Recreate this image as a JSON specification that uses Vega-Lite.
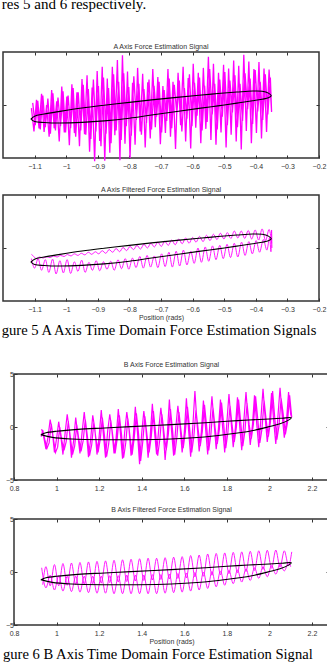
{
"$schema": "https://vega.github.io/schema/vega-lite/v6.json",
"padding": {"left": 1, "top": -4, "right": 0, "bottom": 0},
"title": {"text": "res 5 and 6 respectively.", "anchor": "start", "frame": "bounds", "font": "Liberation Serif", "fontSize": 15, "color": "#000", "offset": 30},
"config": {
  "view": {"stroke": "#333", "strokeWidth": 1.5},
  "font": "Liberation Sans",
  "axis": {"domain": false, "grid": false, "tickSize": -3, "tickColor": "#333", "tickWidth": 1, "labelFontSize": 7, "labelColor": "#333", "labelFont": "Liberation Sans", "labelFlush": false, "labelOverlap": false, "titleFontSize": 7, "titleFont": "Liberation Sans", "titleFontWeight": "normal", "titleColor": "#333", "titlePadding": 1},
  "axisX": {"labelPadding": 7},
  "axisY": {"labelPadding": 3.5},
  "title": {"fontSize": 7, "fontWeight": "normal", "font": "Liberation Sans", "color": "#333", "offset": 2}
},
"datasets": {
"a_raw": [
{"x":-1.11,"y":-0.3},{"x":-1.102,"y":-2.5},{"x":-1.094,"y":0.5},{"x":-1.086,"y":-2.2},{"x":-1.078,"y":1.05},{"x":-1.07,"y":-2.55},{"x":-1.062,"y":0},{"x":-1.054,"y":-3},{"x":-1.046,"y":1.4},{"x":-1.038,"y":-2.2},
{"x":-1.03,"y":0.35},{"x":-1.022,"y":-3.45},{"x":-1.014,"y":1.75},{"x":-1.006,"y":-2.6},{"x":-0.998,"y":0.8},{"x":-0.99,"y":-3.8},{"x":-0.982,"y":1.95},{"x":-0.974,"y":-2.65},{"x":-0.966,"y":1.2},{"x":-0.958,"y":-3.9},
{"x":-0.95,"y":2.45},{"x":-0.942,"y":-2.75},{"x":-0.934,"y":2.8},{"x":-0.926,"y":-4.4},{"x":-0.918,"y":1.65},{"x":-0.91,"y":-5.3},{"x":-0.902,"y":3.2},{"x":-0.894,"y":-3.4},{"x":-0.886,"y":3.6},{"x":-0.878,"y":-5.25},
{"x":-0.87,"y":2.5},{"x":-0.862,"y":-4.5},{"x":-0.854,"y":3.6},{"x":-0.846,"y":-2.85},{"x":-0.838,"y":4.25},{"x":-0.83,"y":-5.2},{"x":-0.822,"y":4.7},{"x":-0.814,"y":-3.65},{"x":-0.806,"y":3.15},{"x":-0.798,"y":-5},
{"x":-0.79,"y":2.1},{"x":-0.782,"y":-3.75},{"x":-0.774,"y":3.5},{"x":-0.766,"y":-2.5},{"x":-0.758,"y":2.95},{"x":-0.75,"y":-4},{"x":-0.742,"y":2.15},{"x":-0.734,"y":-3.15},{"x":-0.726,"y":3.4},{"x":-0.718,"y":-2.1},
{"x":-0.71,"y":2.65},{"x":-0.702,"y":-3.7},{"x":-0.694,"y":1.8},{"x":-0.686,"y":-2.65},{"x":-0.678,"y":3.4},{"x":-0.67,"y":-3},{"x":-0.662,"y":2.2},{"x":-0.654,"y":-4.15},{"x":-0.646,"y":3.05},{"x":-0.638,"y":-1.9},
{"x":-0.63,"y":3.6},{"x":-0.622,"y":-3.45},{"x":-0.614,"y":2.55},{"x":-0.606,"y":-4.1},{"x":-0.598,"y":3.9},{"x":-0.59,"y":-2.15},{"x":-0.582,"y":3.05},{"x":-0.574,"y":-3.6},{"x":-0.566,"y":3.5},{"x":-0.558,"y":-2.25},
{"x":-0.55,"y":4.55},{"x":-0.542,"y":-3.3},{"x":-0.534,"y":3.9},{"x":-0.526,"y":-3.75},{"x":-0.518,"y":3.05},{"x":-0.51,"y":-2.6},{"x":-0.502,"y":3.8},{"x":-0.494,"y":-4},{"x":-0.486,"y":3.45},{"x":-0.478,"y":-2.8},
{"x":-0.47,"y":4.2},{"x":-0.462,"y":-3.45},{"x":-0.454,"y":3.7},{"x":-0.446,"y":-4.2},{"x":-0.438,"y":4.75},{"x":-0.43,"y":-2.45},{"x":-0.422,"y":4.1},{"x":-0.414,"y":-3.6},{"x":-0.406,"y":3.4},{"x":-0.398,"y":-2.65},
{"x":-0.39,"y":4.05},{"x":-0.382,"y":-3.15},{"x":-0.374,"y":3.45},{"x":-0.366,"y":-2.55},{"x":-0.358,"y":3.35},{"x":-0.35,"y":-0.65},
{"x":-0.354,"y":2.6},{"x":-0.362,"y":-0.9},{"x":-0.37,"y":2.9},{"x":-0.378,"y":-1.4},{"x":-0.386,"y":2.2},{"x":-0.394,"y":-0.6},{"x":-0.402,"y":3.3},{"x":-0.41,"y":-1.8},{"x":-0.418,"y":2.5},{"x":-0.426,"y":-0.4},
{"x":-0.434,"y":3},{"x":-0.442,"y":-1.5},{"x":-0.45,"y":2},{"x":-0.458,"y":-2.1},{"x":-0.466,"y":2.8},{"x":-0.474,"y":-0.7},{"x":-0.482,"y":2.3},{"x":-0.49,"y":-1.9},{"x":-0.498,"y":3.1},{"x":-0.506,"y":-1.1},
{"x":-0.514,"y":2.4},{"x":-0.522,"y":-2.3},{"x":-0.53,"y":2},{"x":-0.538,"y":-0.9},{"x":-0.546,"y":3.4},{"x":-0.554,"y":-1.6},{"x":-0.562,"y":1.8},{"x":-0.57,"y":-2.4},{"x":-0.578,"y":2.6},{"x":-0.586,"y":-1},
{"x":-0.594,"y":2.1},{"x":-0.602,"y":-2},{"x":-0.61,"y":2.9},{"x":-0.618,"y":-1.3},{"x":-0.626,"y":1.6},{"x":-0.634,"y":-2.5},{"x":-0.642,"y":2.3},{"x":-0.65,"y":-0.8},{"x":-0.658,"y":1.9},{"x":-0.666,"y":-2.2},
{"x":-0.674,"y":2.5},{"x":-0.682,"y":-1.5},{"x":-0.69,"y":1.4},{"x":-0.698,"y":-2.6},{"x":-0.706,"y":2.2},{"x":-0.714,"y":-1.1},{"x":-0.722,"y":1.8},{"x":-0.73,"y":-2.3},{"x":-0.738,"y":2.4},{"x":-0.746,"y":-1.7},
{"x":-0.754,"y":1.5},{"x":-0.762,"y":-2.8},{"x":-0.77,"y":2},{"x":-0.778,"y":-1.4},{"x":-0.786,"y":2.7},{"x":-0.794,"y":-2.9},{"x":-0.802,"y":1.7},{"x":-0.81,"y":-2},{"x":-0.818,"y":3},{"x":-0.826,"y":-3.3},
{"x":-0.834,"y":2.2},{"x":-0.842,"y":-2.4},{"x":-0.85,"y":2.9},{"x":-0.858,"y":-3.6},{"x":-0.866,"y":1.6},{"x":-0.874,"y":-2.7},{"x":-0.882,"y":2.6},{"x":-0.89,"y":-3.9},{"x":-0.898,"y":1.8},{"x":-0.906,"y":-2.5},
{"x":-0.914,"y":2.4},{"x":-0.922,"y":-3.2},{"x":-0.93,"y":1.5},{"x":-0.938,"y":-2.8},{"x":-0.946,"y":1.9},{"x":-0.954,"y":-2.4},{"x":-0.962,"y":1.2},{"x":-0.97,"y":-3},{"x":-0.978,"y":1.6},{"x":-0.986,"y":-2.2},
{"x":-0.994,"y":0.9},{"x":-1.002,"y":-2.6},{"x":-1.01,"y":1.3},{"x":-1.018,"y":-2},{"x":-1.026,"y":0.7},{"x":-1.034,"y":-2.4},{"x":-1.042,"y":1.1},{"x":-1.05,"y":-2.7},{"x":-1.058,"y":0.6},{"x":-1.066,"y":-2.1},
{"x":-1.074,"y":0.9},{"x":-1.082,"y":-2.3},{"x":-1.09,"y":0.4},{"x":-1.098,"y":-1.9},{"x":-1.106,"y":0.2}
],
"a_ell": [
{"x":-1.112,"y":-1.33},{"x":-1.1,"y":-1.05},{"x":-1.07,"y":-0.85},{"x":-1.02,"y":-0.6},{"x":-0.95,"y":-0.28},{"x":-0.88,"y":-0.02},{"x":-0.8,"y":0.25},{"x":-0.73,"y":0.48},{"x":-0.65,"y":0.72},{"x":-0.58,"y":0.92},{"x":-0.52,"y":1.08},{"x":-0.46,"y":1.22},{"x":-0.41,"y":1.32},{"x":-0.38,"y":1.3},{"x":-0.36,"y":1.12},{"x":-0.351,"y":0.87},
{"x":-0.36,"y":0.68},{"x":-0.38,"y":0.55},{"x":-0.41,"y":0.4},{"x":-0.46,"y":0.18},{"x":-0.52,"y":-0.08},{"x":-0.58,"y":-0.32},{"x":-0.65,"y":-0.62},{"x":-0.73,"y":-0.95},{"x":-0.8,"y":-1.25},{"x":-0.88,"y":-1.5},{"x":-0.95,"y":-1.64},{"x":-1.02,"y":-1.7},{"x":-1.07,"y":-1.65},{"x":-1.1,"y":-1.55},{"x":-1.112,"y":-1.33}
],
"a_filt": [
{"s":1,"x":-1.11,"y":-1},{"s":1,"x":-1.1,"y":-1.9},{"s":1,"x":-1.089,"y":-1},{"s":1,"x":-1.078,"y":-2.1},{"s":1,"x":-1.066,"y":-1.1},{"s":1,"x":-1.055,"y":-2.3},{"s":1,"x":-1.043,"y":-1.05},{"s":1,"x":-1.032,"y":-2.45},{"s":1,"x":-1.02,"y":-1.2},{"s":1,"x":-1.009,"y":-2.35},
{"s":1,"x":-0.997,"y":-1.1},{"s":1,"x":-0.986,"y":-2.4},{"s":1,"x":-0.974,"y":-1.3},{"s":1,"x":-0.963,"y":-2.2},{"s":1,"x":-0.951,"y":-1.15},{"s":1,"x":-0.94,"y":-2.3},{"s":1,"x":-0.928,"y":-1.35},{"s":1,"x":-0.917,"y":-2.1},{"s":1,"x":-0.905,"y":-1.2},{"s":1,"x":-0.894,"y":-2.15},
{"s":1,"x":-0.882,"y":-1.3},{"s":1,"x":-0.871,"y":-2},{"s":1,"x":-0.859,"y":-1.25},{"s":1,"x":-0.848,"y":-2.1},{"s":1,"x":-0.836,"y":-1.1},{"s":1,"x":-0.825,"y":-1.95},{"s":1,"x":-0.813,"y":-1},{"s":1,"x":-0.802,"y":-2},{"s":1,"x":-0.79,"y":-0.95},{"s":1,"x":-0.779,"y":-1.85},
{"s":1,"x":-0.767,"y":-0.8},{"s":1,"x":-0.756,"y":-1.9},{"s":1,"x":-0.744,"y":-0.7},{"s":1,"x":-0.733,"y":-1.8},{"s":1,"x":-0.721,"y":-0.75},{"s":1,"x":-0.71,"y":-1.85},{"s":1,"x":-0.698,"y":-0.55},{"s":1,"x":-0.687,"y":-1.75},{"s":1,"x":-0.675,"y":-0.4},{"s":1,"x":-0.664,"y":-1.8},
{"s":1,"x":-0.652,"y":-0.3},{"s":1,"x":-0.641,"y":-1.7},{"s":1,"x":-0.629,"y":-0.2},{"s":1,"x":-0.618,"y":-1.6},{"s":1,"x":-0.606,"y":-0.3},{"s":1,"x":-0.595,"y":-1.45},{"s":1,"x":-0.583,"y":0},{"s":1,"x":-0.572,"y":-1.35},{"s":1,"x":-0.56,"y":0.1},{"s":1,"x":-0.549,"y":-1.25},
{"s":1,"x":-0.537,"y":0.2},{"s":1,"x":-0.526,"y":-1.1},{"s":1,"x":-0.514,"y":0.25},{"s":1,"x":-0.503,"y":-1},{"s":1,"x":-0.491,"y":0.35},{"s":1,"x":-0.48,"y":-0.9},{"s":1,"x":-0.468,"y":0.45},{"s":1,"x":-0.457,"y":-0.85},{"s":1,"x":-0.445,"y":0.55},{"s":1,"x":-0.434,"y":-0.7},
{"s":1,"x":-0.422,"y":0.6},{"s":1,"x":-0.411,"y":-0.55},{"s":1,"x":-0.399,"y":0.7},{"s":1,"x":-0.388,"y":-0.4},{"s":1,"x":-0.376,"y":0.8},{"s":1,"x":-0.365,"y":-0.2},{"s":1,"x":-0.356,"y":1},{"s":1,"x":-0.352,"y":-0.35},{"s":1,"x":-0.35,"y":1.7},{"s":1,"x":-0.349,"y":0},
{"s":2,"x":-0.35,"y":0.5},{"s":2,"x":-0.358,"y":1.75},{"s":2,"x":-0.369,"y":0.7},{"s":2,"x":-0.38,"y":1.8},{"s":2,"x":-0.391,"y":0.75},{"s":2,"x":-0.402,"y":1.7},{"s":2,"x":-0.413,"y":0.85},{"s":2,"x":-0.424,"y":1.65},{"s":2,"x":-0.435,"y":0.9},{"s":2,"x":-0.446,"y":1.6},
{"s":2,"x":-0.457,"y":0.95},{"s":2,"x":-0.468,"y":1.6},{"s":2,"x":-0.479,"y":0.9},{"s":2,"x":-0.49,"y":1.45},{"s":2,"x":-0.501,"y":0.85},{"s":2,"x":-0.512,"y":1.4},{"s":2,"x":-0.523,"y":0.8},{"s":2,"x":-0.534,"y":1.3},{"s":2,"x":-0.545,"y":0.7},{"s":2,"x":-0.556,"y":1.2},
{"s":2,"x":-0.567,"y":0.6},{"s":2,"x":-0.578,"y":1.1},{"s":2,"x":-0.589,"y":0.55},{"s":2,"x":-0.6,"y":1},{"s":2,"x":-0.611,"y":0.45},{"s":2,"x":-0.622,"y":0.95},{"s":2,"x":-0.633,"y":0.4},{"s":2,"x":-0.644,"y":0.85},{"s":2,"x":-0.655,"y":0.3},{"s":2,"x":-0.666,"y":0.75},
{"s":2,"x":-0.677,"y":0.25},{"s":2,"x":-0.688,"y":0.65},{"s":2,"x":-0.699,"y":0.15},{"s":2,"x":-0.71,"y":0.55},{"s":2,"x":-0.721,"y":0.1},{"s":2,"x":-0.732,"y":0.45},{"s":2,"x":-0.743,"y":0},{"s":2,"x":-0.754,"y":0.35},{"s":2,"x":-0.765,"y":-0.1},{"s":2,"x":-0.776,"y":0.25},
{"s":2,"x":-0.787,"y":-0.15},{"s":2,"x":-0.798,"y":0.15},{"s":2,"x":-0.809,"y":-0.25},{"s":2,"x":-0.82,"y":0.05},{"s":2,"x":-0.831,"y":-0.35},{"s":2,"x":-0.842,"y":-0.05},{"s":2,"x":-0.853,"y":-0.4},{"s":2,"x":-0.864,"y":-0.15},{"s":2,"x":-0.875,"y":-0.5},{"s":2,"x":-0.886,"y":-0.25},
{"s":2,"x":-0.897,"y":-0.55},{"s":2,"x":-0.908,"y":-0.35},{"s":2,"x":-0.919,"y":-0.6},{"s":2,"x":-0.93,"y":-0.4},{"s":2,"x":-0.941,"y":-0.65},{"s":2,"x":-0.952,"y":-0.5},{"s":2,"x":-0.963,"y":-0.7},{"s":2,"x":-0.974,"y":-0.55},{"s":2,"x":-0.985,"y":-0.75},{"s":2,"x":-0.996,"y":-0.62},
{"s":2,"x":-1.007,"y":-0.8},{"s":2,"x":-1.018,"y":-0.7},{"s":2,"x":-1.029,"y":-0.85},{"s":2,"x":-1.04,"y":-0.75},{"s":2,"x":-1.051,"y":-0.9},{"s":2,"x":-1.062,"y":-0.82},{"s":2,"x":-1.073,"y":-0.95},{"s":2,"x":-1.084,"y":-0.85},{"s":2,"x":-1.095,"y":-1},{"s":2,"x":-1.106,"y":-0.7},{"s":2,"x":-1.11,"y":-0.6}
],
"b_raw": [
{"x":0.93,"y":-0.2},{"x":0.94,"y":-1},{"x":0.95,"y":-2.1},{"x":0.96,"y":-0.9},{"x":0.97,"y":0.7},{"x":0.98,"y":-0.4},{"x":0.99,"y":-2.4},{"x":1,"y":-1.1},{"x":1.01,"y":0.5},{"x":1.02,"y":-0.9},{"x":1.03,"y":-2.6},{"x":1.04,"y":-0.6},
{"x":1.05,"y":1.2},{"x":1.06,"y":-0.3},{"x":1.07,"y":-2.9},{"x":1.08,"y":-1.3},{"x":1.09,"y":0.9},{"x":1.1,"y":-0.8},{"x":1.11,"y":-2.5},{"x":1.12,"y":-0.5},{"x":1.13,"y":1.4},{"x":1.14,"y":-0.5},{"x":1.15,"y":-2.85},{"x":1.16,"y":-1.2},
{"x":1.17,"y":1.1},{"x":1.18,"y":-0.2},{"x":1.19,"y":-2.6},{"x":1.2,"y":-0.9},{"x":1.21,"y":1.6},{"x":1.22,"y":-0.7},{"x":1.23,"y":-2.9},{"x":1.24,"y":-0.4},{"x":1.25,"y":1.2},{"x":1.26,"y":-0.3},{"x":1.27,"y":-2.5},{"x":1.28,"y":-1},
{"x":1.29,"y":1.7},{"x":1.3,"y":-0.6},{"x":1.31,"y":-3},{"x":1.32,"y":-0.5},{"x":1.33,"y":1.4},{"x":1.34,"y":-0.1},{"x":1.35,"y":-2.7},{"x":1.36,"y":-1.1},{"x":1.37,"y":1.9},{"x":1.38,"y":-0.5},{"x":1.39,"y":-3.5},{"x":1.4,"y":-0.6},
{"x":1.41,"y":1.5},{"x":1.42,"y":-0.2},{"x":1.43,"y":-2.9},{"x":1.44,"y":-0.9},{"x":1.45,"y":2.2},{"x":1.46,"y":-0.4},{"x":1.47,"y":-2.6},{"x":1.48,"y":-0.2},{"x":1.49,"y":1.8},{"x":1.5,"y":0},{"x":1.51,"y":-3.1},{"x":1.52,"y":-0.8},
{"x":1.53,"y":2.6},{"x":1.54,"y":-0.3},{"x":1.55,"y":-2.7},{"x":1.56,"y":-0.1},{"x":1.57,"y":2},{"x":1.58,"y":0.1},{"x":1.59,"y":-2.4},{"x":1.6,"y":-0.6},{"x":1.61,"y":2.7},{"x":1.62,"y":-0.2},{"x":1.63,"y":-2.8},{"x":1.64,"y":0},
{"x":1.65,"y":3.4},{"x":1.66,"y":0.3},{"x":1.67,"y":-2.3},{"x":1.68,"y":-0.5},{"x":1.69,"y":2.5},{"x":1.7,"y":-0.1},{"x":1.71,"y":-2.6},{"x":1.72,"y":0.2},{"x":1.73,"y":2.9},{"x":1.74,"y":0.4},{"x":1.75,"y":-2.1},{"x":1.76,"y":-0.3},
{"x":1.77,"y":2.6},{"x":1.78,"y":0},{"x":1.79,"y":-2.4},{"x":1.8,"y":0.4},{"x":1.81,"y":3.1},{"x":1.82,"y":0.5},{"x":1.83,"y":-1.9},{"x":1.84,"y":-0.1},{"x":1.85,"y":2.8},{"x":1.86,"y":0.2},{"x":1.87,"y":-2.2},{"x":1.88,"y":0.6},
{"x":1.89,"y":3.3},{"x":1.9,"y":0.7},{"x":1.91,"y":-1.7},{"x":1.92,"y":0.1},{"x":1.93,"y":3},{"x":1.94,"y":0.4},{"x":1.95,"y":-1.9},{"x":1.96,"y":0.8},{"x":1.97,"y":3.6},{"x":1.98,"y":0.9},{"x":1.99,"y":-1.4},{"x":2,"y":0.3},
{"x":2.01,"y":3.2},{"x":2.02,"y":0.6},{"x":2.03,"y":-1.6},{"x":2.04,"y":1},{"x":2.05,"y":3.7},{"x":2.06,"y":1.1},{"x":2.07,"y":-1},{"x":2.08,"y":0.5},{"x":2.09,"y":3.3},{"x":2.1,"y":1.2},
{"x":2.105,"y":0.9},{"x":2.095,"y":3},{"x":2.085,"y":0.4},{"x":2.075,"y":-0.7},{"x":2.065,"y":1.2},{"x":2.055,"y":2.7},{"x":2.045,"y":0.1},{"x":2.035,"y":-1.2},{"x":2.025,"y":0.9},{"x":2.015,"y":3.4},{"x":2.005,"y":0.5},{"x":1.995,"y":-0.9},
{"x":1.985,"y":0.6},{"x":1.975,"y":2.5},{"x":1.965,"y":-0.2},{"x":1.955,"y":-1.5},{"x":1.945,"y":0.8},{"x":1.935,"y":2.9},{"x":1.925,"y":0.3},{"x":1.915,"y":-1.1},{"x":1.905,"y":0.2},{"x":1.895,"y":2.2},{"x":1.885,"y":-0.4},{"x":1.875,"y":-1.8},
{"x":1.865,"y":0.5},{"x":1.855,"y":2.6},{"x":1.845,"y":0},{"x":1.835,"y":-1.4},{"x":1.825,"y":0.1},{"x":1.815,"y":2},{"x":1.805,"y":-0.5},{"x":1.795,"y":-2},{"x":1.785,"y":0.3},{"x":1.775,"y":2.3},{"x":1.765,"y":-0.2},{"x":1.755,"y":-1.6},
{"x":1.745,"y":-0.1},{"x":1.735,"y":1.8},{"x":1.725,"y":-0.7},{"x":1.715,"y":-2.2},{"x":1.705,"y":0.1},{"x":1.695,"y":2.1},{"x":1.685,"y":-0.4},{"x":1.675,"y":-1.8},{"x":1.665,"y":-0.2},{"x":1.655,"y":1.6},{"x":1.645,"y":-0.9},{"x":1.635,"y":-2.4},
{"x":1.625,"y":-0.1},{"x":1.615,"y":1.9},{"x":1.605,"y":-0.5},{"x":1.595,"y":-2},{"x":1.585,"y":-0.4},{"x":1.575,"y":1.4},{"x":1.565,"y":-1},{"x":1.555,"y":-2.6},{"x":1.545,"y":-0.3},{"x":1.535,"y":1.7},{"x":1.525,"y":-0.7},{"x":1.515,"y":-2.2},
{"x":1.505,"y":-0.6},{"x":1.495,"y":1.2},{"x":1.485,"y":-1.2},{"x":1.475,"y":-2.7},{"x":1.465,"y":-0.5},{"x":1.455,"y":1.5},{"x":1.445,"y":-0.9},{"x":1.435,"y":-2.4},{"x":1.425,"y":-0.8},{"x":1.415,"y":1},{"x":1.405,"y":-1.4},{"x":1.395,"y":-3.2},
{"x":1.385,"y":-0.6},{"x":1.375,"y":1.3},{"x":1.365,"y":-1},{"x":1.355,"y":-2.6},{"x":1.345,"y":-0.9},{"x":1.335,"y":0.8},{"x":1.325,"y":-1.5},{"x":1.315,"y":-2.9},{"x":1.305,"y":-0.7},{"x":1.295,"y":1.1},{"x":1.285,"y":-1.1},{"x":1.275,"y":-2.5},
{"x":1.265,"y":-1},{"x":1.255,"y":0.6},{"x":1.245,"y":-1.6},{"x":1.235,"y":-2.8},{"x":1.225,"y":-0.8},{"x":1.215,"y":0.9},{"x":1.205,"y":-1.2},{"x":1.195,"y":-2.4},{"x":1.185,"y":-1.1},{"x":1.175,"y":0.4},{"x":1.165,"y":-1.7},{"x":1.155,"y":-2.7},
{"x":1.145,"y":-0.9},{"x":1.135,"y":0.7},{"x":1.125,"y":-1.3},{"x":1.115,"y":-2.3},{"x":1.105,"y":-1.2},{"x":1.095,"y":0.2},{"x":1.085,"y":-1.8},{"x":1.075,"y":-2.6},{"x":1.065,"y":-1},{"x":1.055,"y":0.5},{"x":1.045,"y":-1.4},{"x":1.035,"y":-2.2},
{"x":1.025,"y":-1.3},{"x":1.015,"y":0},{"x":1.005,"y":-1.9},{"x":0.995,"y":-2.4},{"x":0.985,"y":-1.1},{"x":0.975,"y":0.3},{"x":0.965,"y":-1.5},{"x":0.955,"y":-2},{"x":0.945,"y":-1.2},{"x":0.935,"y":-0.3},{"x":0.928,"y":-0.9}
],
"b_ell": [
{"x":0.926,"y":-0.72},{"x":0.95,"y":-0.55},{"x":1,"y":-0.4},{"x":1.1,"y":-0.22},{"x":1.226,"y":-0.09},{"x":1.35,"y":0.04},{"x":1.538,"y":0.22},{"x":1.7,"y":0.4},{"x":1.85,"y":0.6},{"x":2,"y":0.76},{"x":2.06,"y":0.83},{"x":2.103,"y":0.87},
{"x":2.09,"y":0.65},{"x":2.05,"y":0.3},{"x":2.006,"y":0.07},{"x":1.93,"y":-0.3},{"x":1.85,"y":-0.57},{"x":1.694,"y":-0.94},{"x":1.538,"y":-1.13},{"x":1.38,"y":-1.2},{"x":1.226,"y":-1.2},{"x":1.07,"y":-1.13},{"x":0.98,"y":-0.98},{"x":0.926,"y":-0.72}
],
"b_filt": [
{"s":1,"x":0.93,"y":0.4},{"s":1,"x":0.95,"y":-1.5},{"s":1,"x":0.97,"y":-0.3},{"s":1,"x":0.99,"y":-1.7},{"s":1,"x":1.01,"y":-0.35},{"s":1,"x":1.03,"y":-1.8},{"s":1,"x":1.05,"y":-0.4},{"s":1,"x":1.07,"y":-1.85},{"s":1,"x":1.09,"y":-0.4},{"s":1,"x":1.11,"y":-1.9},
{"s":1,"x":1.13,"y":-0.4},{"s":1,"x":1.15,"y":-1.95},{"s":1,"x":1.17,"y":-0.4},{"s":1,"x":1.19,"y":-2},{"s":1,"x":1.21,"y":-0.4},{"s":1,"x":1.23,"y":-2},{"s":1,"x":1.25,"y":-0.35},{"s":1,"x":1.27,"y":-2.05},{"s":1,"x":1.29,"y":-0.35},{"s":1,"x":1.31,"y":-2.05},
{"s":1,"x":1.33,"y":-0.3},{"s":1,"x":1.35,"y":-2.05},{"s":1,"x":1.37,"y":-0.3},{"s":1,"x":1.39,"y":-2.05},{"s":1,"x":1.41,"y":-0.3},{"s":1,"x":1.43,"y":-2.05},{"s":1,"x":1.45,"y":-0.25},{"s":1,"x":1.47,"y":-2.05},{"s":1,"x":1.49,"y":-0.25},{"s":1,"x":1.51,"y":-2},
{"s":1,"x":1.53,"y":-0.2},{"s":1,"x":1.55,"y":-1.95},{"s":1,"x":1.57,"y":-0.15},{"s":1,"x":1.59,"y":-1.9},{"s":1,"x":1.61,"y":-0.1},{"s":1,"x":1.63,"y":-1.8},{"s":1,"x":1.65,"y":-0.05},{"s":1,"x":1.67,"y":-1.7},{"s":1,"x":1.69,"y":0},{"s":1,"x":1.71,"y":-1.55},
{"s":1,"x":1.73,"y":0.05},{"s":1,"x":1.75,"y":-1.4},{"s":1,"x":1.77,"y":0.1},{"s":1,"x":1.79,"y":-1.25},{"s":1,"x":1.81,"y":0.15},{"s":1,"x":1.83,"y":-1.1},{"s":1,"x":1.85,"y":0.2},{"s":1,"x":1.87,"y":-0.95},{"s":1,"x":1.89,"y":0.3},{"s":1,"x":1.91,"y":-0.8},
{"s":1,"x":1.93,"y":0.4},{"s":1,"x":1.95,"y":-0.6},{"s":1,"x":1.97,"y":0.5},{"s":1,"x":1.99,"y":-0.45},{"s":1,"x":2.01,"y":0.6},{"s":1,"x":2.03,"y":-0.2},{"s":1,"x":2.05,"y":0.75},{"s":1,"x":2.07,"y":0.1},{"s":1,"x":2.09,"y":0.9},{"s":1,"x":2.1,"y":0.5},
{"s":2,"x":2.105,"y":1.9},{"s":2,"x":2.09,"y":0.6},{"s":2,"x":2.07,"y":2},{"s":2,"x":2.05,"y":0.45},{"s":2,"x":2.03,"y":2.07},{"s":2,"x":2.01,"y":0.35},{"s":2,"x":1.99,"y":2.05},{"s":2,"x":1.97,"y":0.25},{"s":2,"x":1.95,"y":2},{"s":2,"x":1.93,"y":0.15},
{"s":2,"x":1.91,"y":1.95},{"s":2,"x":1.89,"y":0.05},{"s":2,"x":1.87,"y":1.9},{"s":2,"x":1.85,"y":-0.05},{"s":2,"x":1.83,"y":1.85},{"s":2,"x":1.81,"y":-0.15},{"s":2,"x":1.79,"y":1.8},{"s":2,"x":1.77,"y":-0.25},{"s":2,"x":1.75,"y":1.75},{"s":2,"x":1.73,"y":-0.3},
{"s":2,"x":1.71,"y":1.7},{"s":2,"x":1.69,"y":-0.4},{"s":2,"x":1.67,"y":1.6},{"s":2,"x":1.65,"y":-0.45},{"s":2,"x":1.63,"y":1.55},{"s":2,"x":1.61,"y":-0.55},{"s":2,"x":1.59,"y":1.45},{"s":2,"x":1.57,"y":-0.6},{"s":2,"x":1.55,"y":1.4},{"s":2,"x":1.53,"y":-0.65},
{"s":2,"x":1.51,"y":1.35},{"s":2,"x":1.49,"y":-0.7},{"s":2,"x":1.47,"y":1.3},{"s":2,"x":1.45,"y":-0.75},{"s":2,"x":1.43,"y":1.3},{"s":2,"x":1.41,"y":-0.8},{"s":2,"x":1.39,"y":1.25},{"s":2,"x":1.37,"y":-0.85},{"s":2,"x":1.35,"y":1.2},{"s":2,"x":1.33,"y":-0.9},
{"s":2,"x":1.31,"y":1.15},{"s":2,"x":1.29,"y":-0.95},{"s":2,"x":1.27,"y":1.1},{"s":2,"x":1.25,"y":-1},{"s":2,"x":1.23,"y":1.05},{"s":2,"x":1.21,"y":-1.05},{"s":2,"x":1.19,"y":1},{"s":2,"x":1.17,"y":-1.1},{"s":2,"x":1.15,"y":0.95},{"s":2,"x":1.13,"y":-1.15},
{"s":2,"x":1.11,"y":0.9},{"s":2,"x":1.09,"y":-1.2},{"s":2,"x":1.07,"y":0.85},{"s":2,"x":1.05,"y":-1.25},{"s":2,"x":1.03,"y":0.8},{"s":2,"x":1.01,"y":-1.3},{"s":2,"x":0.99,"y":0.7},{"s":2,"x":0.97,"y":-1.3},{"s":2,"x":0.95,"y":0.5},{"s":2,"x":0.935,"y":-1.2}
]
},
"spacing": 22,
"vconcat": [
{
  "title": {"text": "gure 5 A Axis Time Domain Force Estimation Signals", "orient": "bottom", "anchor": "start", "frame": "bounds", "font": "Liberation Serif", "fontSize": 14.6, "color": "#000", "offset": 2},
  "spacing": 14,
  "vconcat": [
  {
    "width": 316, "height": 106,
    "title": {"text": "A Axis Force Estimation Signal"},
    "resolve": {"axis": {"x": "independent", "y": "independent"}},
    "layer": [
      {"data": {"name": "a_raw"}, "mark": {"type": "line", "color": "#ff00ff", "strokeWidth": 1.3},
       "encoding": {
         "x": {"field": "x", "type": "quantitative", "scale": {"domain": [-1.2, -0.2], "nice": false, "zero": false}, "axis": {"orient": "bottom", "values": [-1.1,-1,-0.9,-0.8,-0.7,-0.6,-0.5,-0.4,-0.3,-0.2], "format": "~g", "title": null}},
         "y": {"field": "y", "type": "quantitative", "scale": {"domain": [-5, 5], "nice": false, "zero": false}, "axis": {"orient": "left", "values": [0], "labels": false, "title": null}},
         "order": {"value": null}}},
      {"data": {"name": "a_ell"}, "mark": {"type": "line", "color": "#000", "strokeWidth": 1.1, "interpolate": "catmull-rom"},
       "encoding": {
         "x": {"field": "x", "type": "quantitative", "scale": {"domain": [-1.2, -0.2], "nice": false, "zero": false}, "axis": {"orient": "top", "values": [-1.1,-1,-0.9,-0.8,-0.7,-0.6,-0.5,-0.4,-0.3], "labels": false, "title": null}},
         "y": {"field": "y", "type": "quantitative", "scale": {"domain": [-5, 5], "nice": false, "zero": false}, "axis": {"orient": "right", "values": [0], "labels": false, "title": null}},
         "order": {"value": null}}}
    ]
  },
  {
    "width": 316, "height": 106,
    "title": {"text": "A Axis Filtered Force Estimation Signal"},
    "resolve": {"axis": {"x": "independent", "y": "independent"}},
    "layer": [
      {"data": {"name": "a_filt"}, "mark": {"type": "line", "color": "#ff00ff", "strokeWidth": 0.9, "interpolate": "monotone"},
       "encoding": {
         "x": {"field": "x", "type": "quantitative", "scale": {"domain": [-1.2, -0.2], "nice": false, "zero": false}, "axis": {"orient": "bottom", "values": [-1.1,-1,-0.9,-0.8,-0.7,-0.6,-0.5,-0.4,-0.3,-0.2], "format": "~g", "title": "Position (rads)"}},
         "y": {"field": "y", "type": "quantitative", "scale": {"domain": [-5, 5], "nice": false, "zero": false}, "axis": {"orient": "left", "values": [0], "labels": false, "title": null}},
         "detail": {"field": "s", "type": "nominal"}}},
      {"data": {"name": "a_ell"}, "mark": {"type": "line", "color": "#000", "strokeWidth": 1.1, "interpolate": "catmull-rom"},
       "encoding": {
         "x": {"field": "x", "type": "quantitative", "scale": {"domain": [-1.2, -0.2], "nice": false, "zero": false}, "axis": {"orient": "top", "values": [-1.1,-1,-0.9,-0.8,-0.7,-0.6,-0.5,-0.4,-0.3], "labels": false, "title": null}},
         "y": {"field": "y", "type": "quantitative", "scale": {"domain": [-5, 5], "nice": false, "zero": false}, "axis": {"orient": "right", "values": [0], "labels": false, "title": null}},
         "order": {"value": null}}}
    ]
  }
  ]
},
{
  "title": {"text": "gure 6 B Axis Time Domain Force Estimation Signal", "orient": "bottom", "anchor": "start", "frame": "bounds", "font": "Liberation Serif", "fontSize": 14.6, "color": "#000", "offset": 2},
  "spacing": 0,
  "hconcat": [
  {"width": 1, "height": 10, "data": {"values": []}, "mark": "point", "view": {"stroke": null}},
  {
  "spacing": 13,
  "vconcat": [
  {
    "width": 315, "height": 106,
    "title": {"text": "B Axis Force Estimation Signal"},
    "resolve": {"axis": {"x": "independent", "y": "independent"}},
    "layer": [
      {"data": {"name": "b_raw"}, "mark": {"type": "line", "color": "#ff00ff", "strokeWidth": 1.2},
       "encoding": {
         "x": {"field": "x", "type": "quantitative", "scale": {"domain": [0.8, 2.28], "nice": false, "zero": false}, "axis": {"orient": "bottom", "values": [0.8,1,1.2,1.4,1.6,1.8,2,2.2], "format": "~g", "title": null}},
         "y": {"field": "y", "type": "quantitative", "scale": {"domain": [-5, 5], "nice": false, "zero": false}, "axis": {"orient": "left", "values": [-5,0,5], "format": "~g", "title": null}},
         "order": {"value": null}}},
      {"data": {"name": "b_ell"}, "mark": {"type": "line", "color": "#000", "strokeWidth": 1.1, "interpolate": "catmull-rom"},
       "encoding": {
         "x": {"field": "x", "type": "quantitative", "scale": {"domain": [0.8, 2.28], "nice": false, "zero": false}, "axis": {"orient": "top", "values": [1,1.2,1.4,1.6,1.8,2,2.2], "labels": false, "title": null}},
         "y": {"field": "y", "type": "quantitative", "scale": {"domain": [-5, 5], "nice": false, "zero": false}, "axis": {"orient": "right", "values": [0], "labels": false, "title": null}},
         "order": {"value": null}}}
    ]
  },
  {
    "width": 315, "height": 106,
    "title": {"text": "B Axis Filtered Force Estimation Signal"},
    "resolve": {"axis": {"x": "independent", "y": "independent"}},
    "layer": [
      {"data": {"name": "b_filt"}, "mark": {"type": "line", "color": "#ff00ff", "strokeWidth": 0.9, "interpolate": "monotone"},
       "encoding": {
         "x": {"field": "x", "type": "quantitative", "scale": {"domain": [0.8, 2.28], "nice": false, "zero": false}, "axis": {"orient": "bottom", "values": [0.8,1,1.2,1.4,1.6,1.8,2,2.2], "format": "~g", "title": "Position (rads)"}},
         "y": {"field": "y", "type": "quantitative", "scale": {"domain": [-5, 5], "nice": false, "zero": false}, "axis": {"orient": "left", "values": [-5,0,5], "format": "~g", "title": null}},
         "detail": {"field": "s", "type": "nominal"}}},
      {"data": {"name": "b_ell"}, "mark": {"type": "line", "color": "#000", "strokeWidth": 1.1, "interpolate": "catmull-rom"},
       "encoding": {
         "x": {"field": "x", "type": "quantitative", "scale": {"domain": [0.8, 2.28], "nice": false, "zero": false}, "axis": {"orient": "top", "values": [1,1.2,1.4,1.6,1.8,2,2.2], "labels": false, "title": null}},
         "y": {"field": "y", "type": "quantitative", "scale": {"domain": [-5, 5], "nice": false, "zero": false}, "axis": {"orient": "right", "values": [0], "labels": false, "title": null}},
         "order": {"value": null}}}
    ]
  }
  ]
  }
  ]
}
]
}
